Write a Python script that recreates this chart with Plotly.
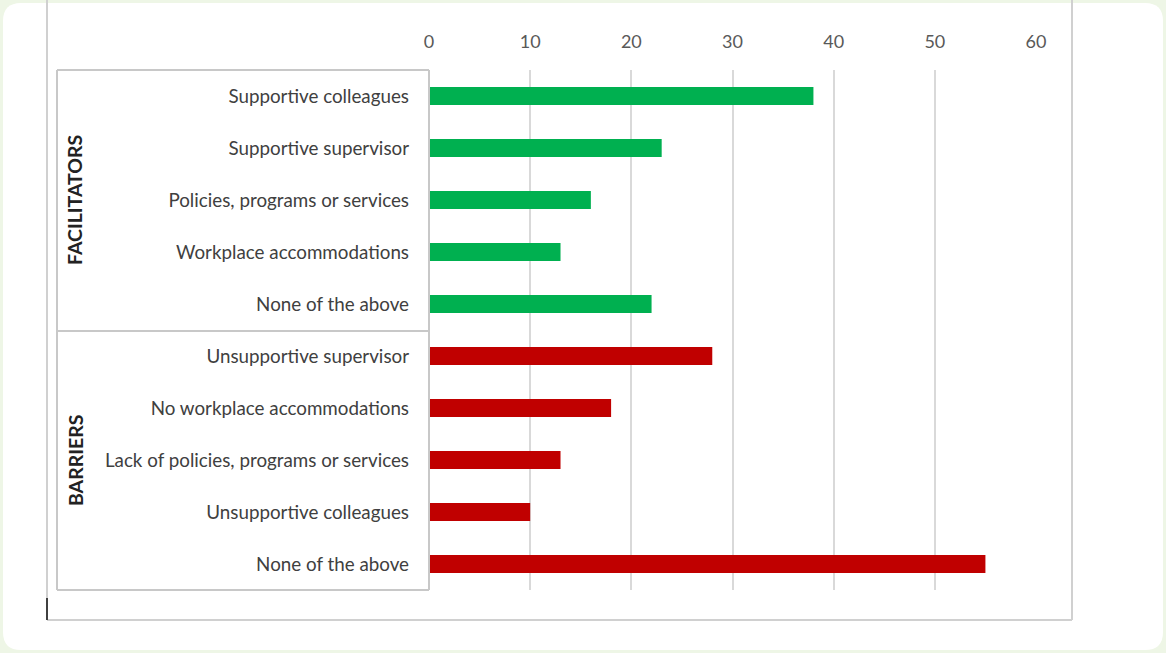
import plotly.graph_objects as go

# ---- data ----
facilitator_labels = ["Supportive colleagues", "Supportive supervisor", "Policies, programs or services",
                      "Workplace accommodations", "None of the above"]
facilitator_values = [38, 23, 16, 13, 22]
barrier_labels = ["Unsupportive supervisor", "No workplace accommodations",
                  "Lack of policies, programs or services", "Unsupportive colleagues", "None of the above"]
barrier_values = [28, 18, 13, 10, 55]
group_names = ["FACILITATORS", "BARRIERS"]
x_ticks = [0, 10, 20, 30, 40, 50, 60]

W, H = 1166, 653
def px(x):
    return x / W
def py(y):
    return 1 - y / H

labels = facilitator_labels + barrier_labels
n_f = len(facilitator_labels)
pos_f = list(range(n_f))
pos_b = list(range(n_f, len(labels)))

FONT = "Lato"
fig = go.Figure()
fig.add_trace(go.Bar(y=pos_f, x=facilitator_values, orientation="h",
                     marker=dict(color="#00b050", line=dict(width=0)), width=0.35,
                     showlegend=False, hoverinfo="x+y"))
fig.add_trace(go.Bar(y=pos_b, x=barrier_values, orientation="h",
                     marker=dict(color="#c00000", line=dict(width=0)), width=0.35,
                     showlegend=False, hoverinfo="x+y"))

x0p, x1p = 429, 1036
y0p, y1p = 70, 590

fig.update_layout(
    width=W, height=H, autosize=False,
    margin=dict(l=0, r=0, t=0, b=0, pad=0, autoexpand=False),
    paper_bgcolor="#eef6e6",
    plot_bgcolor="rgba(0,0,0,0)",
    xaxis=dict(domain=[px(x0p), px(x1p)], range=[0, 60], side="top", automargin=False,
               tickvals=x_ticks, ticktext=[str(v) for v in x_ticks],
               showgrid=True, gridcolor="#d9d9d9", gridwidth=1.5,
               zeroline=False, showline=False, ticks="",
               ticklabelstandoff=17,
               tickfont=dict(family=FONT, size=18, color="#595959")),
    yaxis=dict(domain=[py(y1p), py(y0p)], range=[len(labels) - 0.5, -0.5], automargin=False,
               tickvals=list(range(len(labels))), ticktext=labels,
               showgrid=False, zeroline=False, showline=False, ticks="",
               ticklabelstandoff=19,
               tickfont=dict(family=FONT, size=18.8, color="#404040")),
    bargap=0.65,
)

shapes = []
# white rounded card
r = 18
L, T, R, B = 3, 3, 1163, 650
path = (f"M {px(L + r)},{py(T)} L {px(R - r)},{py(T)} Q {px(R)},{py(T)} {px(R)},{py(T + r)} "
        f"L {px(R)},{py(B - r)} Q {px(R)},{py(B)} {px(R - r)},{py(B)} "
        f"L {px(L + r)},{py(B)} Q {px(L)},{py(B)} {px(L)},{py(B - r)} "
        f"L {px(L)},{py(T + r)} Q {px(L)},{py(T)} {px(L + r)},{py(T)} Z")
shapes.append(dict(type="path", xref="paper", yref="paper", path=path,
                   fillcolor="white", line=dict(width=0), layer="below"))

def line(xa, ya, xb, yb, color="#d0d0d0", w=2):
    shapes.append(dict(type="line", xref="paper", yref="paper",
                       x0=px(xa), y0=py(ya), x1=px(xb), y1=py(yb),
                       line=dict(color=color, width=w), layer="above"))

# outer frame
line(47, 0, 47, 620)
line(47, 620, 1072, 620)
line(1072, 0, 1072, 620)
line(47, 598, 47, 620, color="#404040", w=2)
# group box
sep = 331
line(57, y0p, 57, y1p, color="#c8c8c8")
line(57, y0p, x0p, y0p, color="#c8c8c8")
line(57, sep, x0p, sep, color="#c8c8c8")
line(57, y1p, x0p, y1p, color="#c8c8c8")
line(x0p, y0p, x0p, y1p, color="#c8c8c8")

annotations = [
    dict(x=px(75), y=py(200), xref="paper", yref="paper", text=group_names[0], textangle=-90,
         xanchor="center", yanchor="middle",
         showarrow=False, font=dict(family=FONT, size=19.5, color="#222222", weight="bold")),
    dict(x=px(75), y=py(461), xref="paper", yref="paper", text=group_names[1], textangle=-90,
         xanchor="center", yanchor="middle",
         showarrow=False, font=dict(family=FONT, size=19.5, color="#222222", weight="bold")),
]
fig.update_layout(shapes=shapes, annotations=annotations)

fig.write_html("out.html", config={"displayModeBar": False, "responsive": False},
               post_script="document.body.style.margin='0';document.body.style.overflow='hidden';")
